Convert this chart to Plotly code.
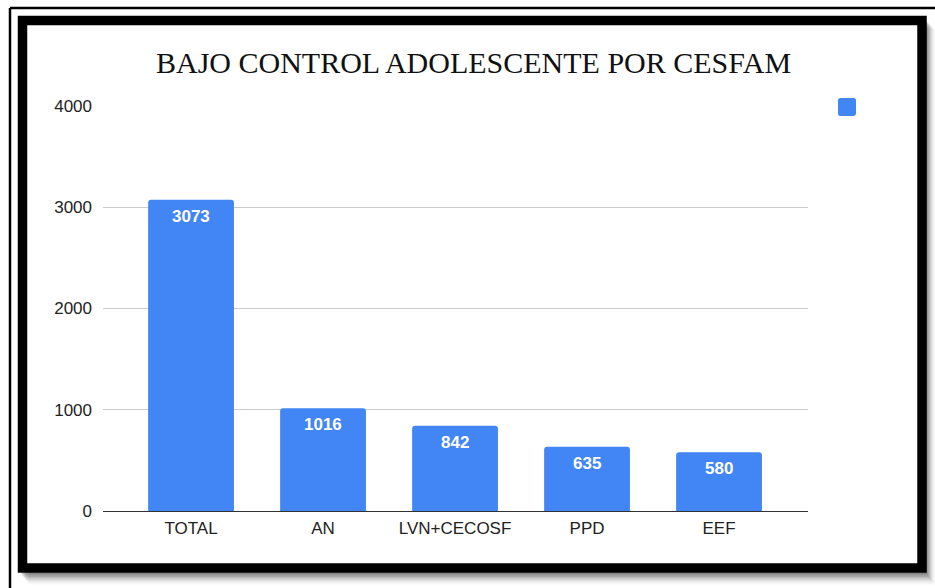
import re
import plotly.graph_objects as go

# Bajo control adolescente por CESFAM
categories = ["TOTAL", "AN", "LVN+CECOSF", "PPD", "EEF"]
values = [3073, 1016, 842, 635, 580]
y_ticks = [0, 1000, 2000, 3000, 4000]

W, H = 935, 588
PL, PR, PT, PB = 103, 808, 106, 511  # plot area in pixels


def px(x):
    return (x - PL) / (PR - PL)


def py(y):
    return (PB - y) / (PB - PT)


def to_paper_path(p):
    def rep(m):
        return f"{px(float(m.group(1))):.5f},{py(float(m.group(2))):.5f}"
    return re.sub(r"(-?\d+\.?\d*),(-?\d+\.?\d*)", rep, p)


BLUE = "#4285F4"

fig = go.Figure(
    go.Bar(
        x=categories,
        y=values,
        marker=dict(color=BLUE, cornerradius=3, line=dict(width=0)),
        width=0.65,
        showlegend=False,
        hoverinfo="x+y",
    )
)

# value labels just inside the top of each bar
annotations = [
    dict(x=c, y=v, text=f"<b>{v}</b>", xref="x", yref="y",
         yanchor="top", yshift=-5, showarrow=False,
         font=dict(family="Liberation Sans, Arial", size=17, color="white"))
    for c, v in zip(categories, values)
]
annotations.append(dict(
    text="BAJO CONTROL ADOLESCENTE POR CESFAM",
    xref="paper", yref="paper", x=px(473), y=py(62.5),
    xanchor="center", yanchor="middle", showarrow=False,
    font=dict(family="Liberation Serif, Times New Roman", size=30, color="#111"),
))

shapes = []
# soft drop shadow of the frame
for i, op in enumerate([0.10, 0.10, 0.09, 0.08, 0.07, 0.05, 0.04, 0.03, 0.02]):
    d = i + 1
    shapes.append(dict(
        type="rect", xref="paper", yref="paper", layer="below",
        x0=px(18 + d + 2), x1=px(926 + d), y0=py(16 + d + 4), y1=py(573 + d * 1.3),
        line=dict(width=0), fillcolor=f"rgba(0,0,0,{op})",
    ))
# thick black frame with white interior
shapes.append(dict(
    type="rect", xref="paper", yref="paper", layer="below",
    x0=px(22.5), x1=px(922), y0=py(20.5), y1=py(568),
    line=dict(color="black", width=9.5), fillcolor="white",
))
# thin outer border lines
shapes.append(dict(type="line", xref="paper", yref="paper", layer="below",
                   x0=px(10), x1=px(W + 5), y0=py(8), y1=py(8),
                   line=dict(color="black", width=2.5)))
shapes.append(dict(type="line", xref="paper", yref="paper", layer="below",
                   x0=px(10), x1=px(10), y0=py(8), y1=py(H + 5),
                   line=dict(color="black", width=2.5)))
# legend swatch (rounded square)
x0, x1, y0, y1, r = 838, 856, 98, 116, 2.5
path = (f"M{x0 + r},{y0} L{x1 - r},{y0} Q{x1},{y0} {x1},{y0 + r} "
        f"L{x1},{y1 - r} Q{x1},{y1} {x1 - r},{y1} L{x0 + r},{y1} "
        f"Q{x0},{y1} {x0},{y1 - r} L{x0},{y0 + r} Q{x0},{y0} {x0 + r},{y0} Z")
shapes.append(dict(type="path", xref="paper", yref="paper", layer="above",
                   path=to_paper_path(path), line=dict(width=0), fillcolor=BLUE))

fig.update_layout(
    width=W, height=H,
    margin=dict(l=PL, r=W - PR, t=PT, b=H - PB, pad=0),
    paper_bgcolor="white",
    plot_bgcolor="rgba(0,0,0,0)",
    shapes=shapes,
    annotations=annotations,
    font=dict(family="Liberation Sans, Arial", size=17, color="#222"),
    xaxis=dict(
        range=[-0.667, 4.674],
        showgrid=False, showline=False, zeroline=False,
        ticks="", ticklabelstandoff=5, tickfont=dict(size=17, color="#222"),
    ),
    yaxis=dict(
        range=[0, 4000],
        tickvals=y_ticks,
        showgrid=True, gridcolor="#cccccc", gridwidth=1,
        zeroline=True, zerolinecolor="#333333", zerolinewidth=1.3,
        showline=False, ticks="", ticklabelstandoff=10,
        tickfont=dict(size=17, color="#222"),
    ),
)

fig.write_html("out.html")
